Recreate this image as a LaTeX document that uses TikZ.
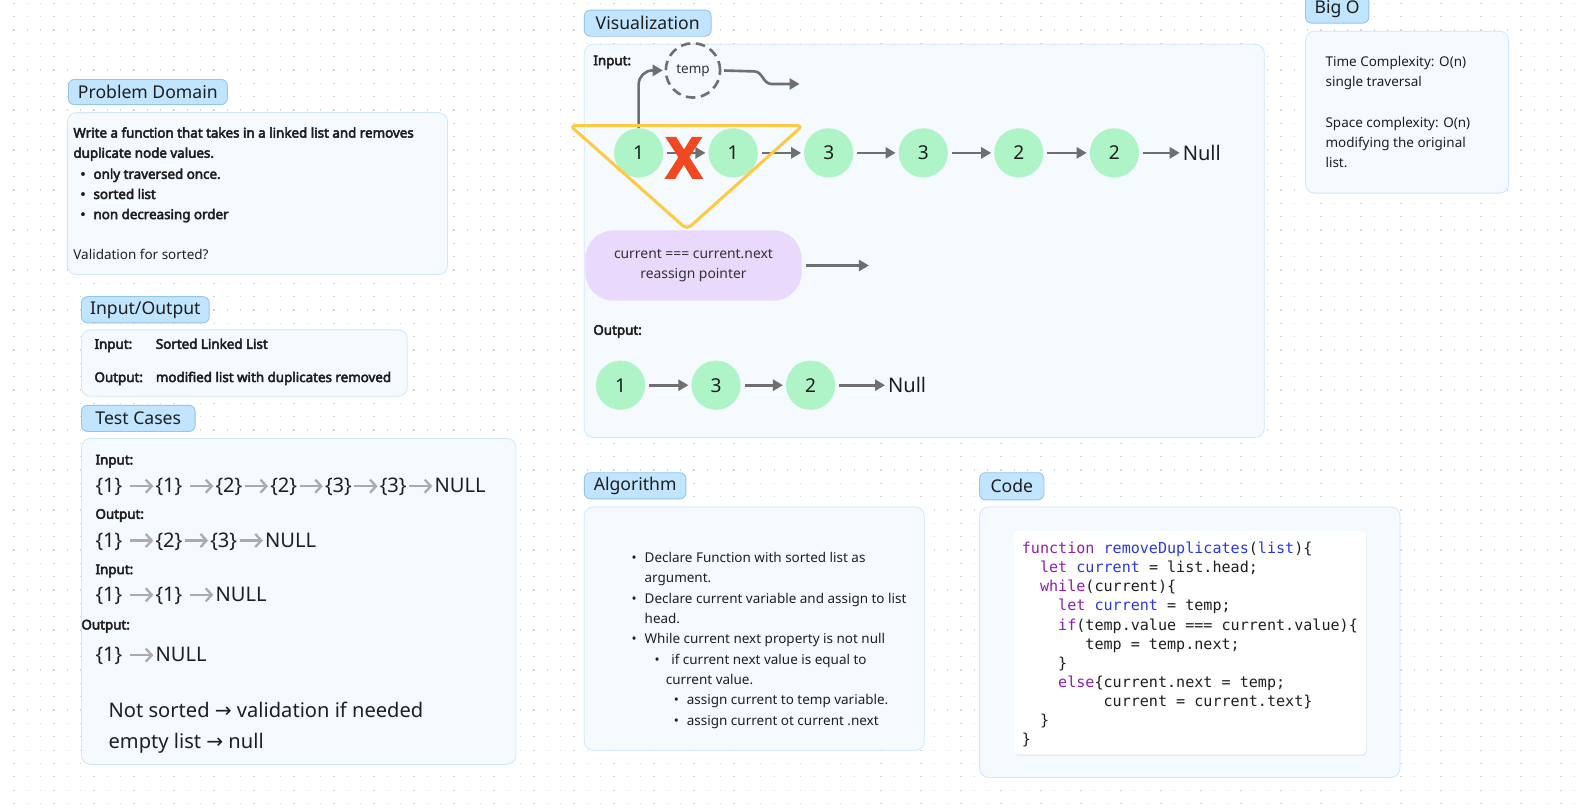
\documentclass[tikz,border=0pt]{standalone}
\usepackage{fontspec}
\setmainfont{Noto Sans}[BoldFont={Noto Sans},BoldFeatures={FakeBold=3.6}]
\newfontfamily\heavyfont{Noto Sans}[FakeBold=9]
\newfontfamily\symfont{DejaVu Sans}
\newfontfamily\codefont{DejaVu Sans Mono}
\usetikzlibrary{arrows.meta,positioning,calc}
\definecolor{ink}{HTML}{1E1E1E}
\definecolor{inksoft}{HTML}{333333}
\definecolor{dotgray}{HTML}{D6D6D6}
\definecolor{tagblue}{HTML}{C2E5FF}
\definecolor{tagline}{HTML}{93C6EC}
\definecolor{panelfill}{HTML}{F5FAFF}
\definecolor{panelline}{HTML}{CFE6FB}
\definecolor{linkgray}{HTML}{6F6F6F}
\definecolor{nodegreen}{HTML}{AFF4C6}
\definecolor{xred}{HTML}{F24822}
\definecolor{triyellow}{HTML}{FFC943}
\definecolor{pillpurple}{HTML}{E9D9FD}
\definecolor{arrowlight}{HTML}{ABABAB}
\definecolor{kwpurple}{HTML}{8E1FAE}
\definecolor{idblue}{HTML}{2A38E0}
\newcommand\fs[2]{\fontsize{#1}{#2}\selectfont}
\newcommand\ta{\hspace{1.5pt}\tikz[baseline=-0.33em]\draw[arrowlight,line width=2.3pt,
  -{Straight Barb[length=6pt,width=13pt,line width=2.3pt]}] (0pt,0pt) -- (23pt,0pt);\hspace{1pt}}
\newcommand\sar{{\symfont →}}
\newcommand\bul{\makebox[13pt][l]{•}}
\newcommand\kw[1]{\textcolor{kwpurple}{#1}}
\newcommand\id[1]{\textcolor{idblue}{#1}}
\newcommand\ind[1]{\hspace*{#1\fontcharwd\font`x}}

\begin{document}
\begin{tikzpicture}[x=1pt,y=-1pt,
  every node/.style={inner sep=0pt,outer sep=0pt,text=ink},
  griddot/.style={draw=dotgray,line width=1.3pt,dash pattern=on 1.3pt off 11.96pt},
  tag/.style={draw=tagline,fill=tagblue,line width=0.9pt,rounded corners=6pt,anchor=north west,font=\fs{17.5}{20}},
  panel/.style={draw=panelline,fill=panelfill,line width=0.8pt,rounded corners=9pt,anchor=north west},
  txt/.style={anchor=base west,yshift=-4.8pt,font=\fs{13.4}{15}},
  txtb/.style={txt,font=\bfseries\fs{13.3}{15}},
  txtl/.style={anchor=base west,yshift=-7pt,font=\fs{20}{24}},
  code/.style={anchor=base west,yshift=-5.2pt,font=\codefont\fs{15}{19}},
  lnode/.style={circle,fill=nodegreen,minimum size=49pt,font=\fs{19}{20}},
  link/.style={draw=linkgray,line width=2.6pt,-{Triangle[length=10pt,width=11pt]},shorten <=4pt,shorten >=3pt}]
  \fill[white] (0,0) rectangle (1568,804);
  \useasboundingbox (0,0) rectangle (1568,804);
  % dotted canvas
  \foreach \k in {0,...,60}
    \draw[griddot] (13.26,{3.3+13.26*\k}) -- (1568,{3.3+13.26*\k});

  % section tags and panels
  \node[tag,minimum width=158pt,minimum height=25pt] (pdtag) at (68,79) {Problem Domain};
  \node[panel,minimum width=378pt,minimum height=161pt] (pdpanel) at (67,112) {};
  \node[tag,minimum width=127pt,minimum height=26pt] (iotag) at (81,295) {Input/Output};
  \node[panel,minimum width=324pt,minimum height=66pt] (iopanel) at (81,328) {};
  \node[tag,minimum width=113pt,minimum height=26pt] (tctag) at (81,403) {Test Cases};
  \node[panel,minimum width=432pt,minimum height=324pt] (tcpanel) at (81,436) {};
  \node[tag,minimum width=126pt,minimum height=26pt] (viztag) at (581,10) {Visualization};
  \node[panel,minimum width=676pt,minimum height=391pt] (vizpanel) at (581,44) {};
  \node[tag,minimum width=101pt,minimum height=26pt] (algtag) at (581,470) {Algorithm};
  \node[panel,minimum width=338pt,minimum height=242pt] (algpanel) at (581,504) {};
  \node[tag,minimum width=64pt,minimum height=27pt] (codetag) at (974,470) {Code};
  \node[panel,minimum width=418pt,minimum height=269pt] (codepanel) at (974,504) {};
  \node[tag,minimum width=63pt,minimum height=27pt] (bigotag) at (1298,-4) {Big O};
  \node[panel,minimum width=202pt,minimum height=161pt] (bigopanel) at (1298,31) {};

  % problem domain
  \foreach \x/\y/\t [count=\i] in {73/132/{Write a function that takes in a linked list and removes},
      73/152/{duplicate node values.}, 80/173/{\bul only traversed once.},
      80/193/{\bul sorted list}, 80/213/{\bul non decreasing order}}
    \node[txtb] (pd\i) at (\x,\y) {\t};
  \node[txt] (pdnote) at (73,253) {Validation for sorted?};

  % input / output
  \node[txtb] (ioin) at (94,342) {Input:};
  \node[txtb] (ioinv) at (155,342) {Sorted Linked List};
  \node[txtb] (ioout) at (94,375) {Output:};
  \node[txtb] (iooutv) at (155,375) {modified list with duplicates removed};

  % test cases
  \node[txtb] (tcin1) at (95,457) {Input:};
  \node[txtl] (tcl1) at (95,483) {\{1\} \ta\{1\} \ta\{2\}\ta\{2\}\ta\{3\}\ta\{3\}\ta NULL};
  \node[txtb] (tcout1) at (95,511) {Output:};
  \node[txtl] (tcl2) at (95,537) {\{1\} \ta\{2\}\ta\{3\}\ta NULL};
  \node[txtb] (tcin2) at (95,566) {Input:};
  \node[txtl] (tcl3) at (95,591) {\{1\} \ta\{1\} \ta NULL};
  \node[txtb] (tcout2) at (81,621) {Output:};
  \node[txtl] (tcl4) at (95,651) {\{1\} \ta NULL};
  \node[txtl] (tcnote1) at (108,706) {Not sorted \sar{} validation if needed};
  \node[txtl] (tcnote2) at (108,737) {empty list \sar{} null};

  % visualization: input list
  \node[txtb] (vizin) at (590,60) {Input:};
  \foreach \v/\x [count=\i] in {1/635,1/729,3/824,3/918,2/1013,2/1108}
    \node[lnode] (a\i) at (\x,152) {\v};
  \foreach \i [count=\j from 2] in {1,...,5}
    \draw[link] (a\i) -- (a\j);
  \node[anchor=west,font=\fs{20}{24}] (anull) at (1176,152) {Null};
  \draw[link] (a6) -- (anull);
  \node[circle,draw=linkgray,line width=2.6pt,dash pattern=on 9.5pt off 5.5pt,
    minimum size=54pt,font=\fs{13.4}{15},text=inksoft] (temp) at (689,70) {temp};
  \draw[link,rounded corners=14pt,shorten <=0pt] (a1.north) |- (temp.west);
  \coordinate (tempout) at (795,83.5);
  \draw[link,shorten >=0pt] (temp.east) -- (750,71) to[out=0,in=180] (767,83.5) -- (tempout);
  \draw[triyellow,line width=3pt,rounded corners=5pt] (567,125) -- (798,125) -- (683,228) -- cycle;
  \node[font=\heavyfont\fs{52}{52},text=xred] (cross) at (680,157) {X};
  \node[fill=pillpurple,rounded corners=28pt,minimum width=215pt,minimum height=70pt,
    align=center,font=\fs{13.8}{20.5},text=inksoft] (cond) at (689.5,264)
    {current === current.next\\reassign pointer};
  \coordinate (condout) at (864,264);
  \draw[link,shorten >=0pt] (cond) -- (condout);

  % visualization: output list
  \node[txtb] (vizout) at (590,328) {Output:};
  \foreach \v/\x [count=\i] in {1/617,3/712,2/806}
    \node[lnode] (b\i) at (\x,383) {\v};
  \draw[link] (b1) -- (b2);
  \draw[link] (b2) -- (b3);
  \node[anchor=west,font=\fs{20}{24}] (bnull) at (883,383) {Null};
  \draw[link] (b3) -- (bnull);

  % algorithm
  \foreach \x/\y/\t [count=\i] in {628/554/{\bul Declare Function with sorted list as},
      641/574/{argument.}, 628/595/{\bul Declare current variable and assign to list},
      641/615/{head.}, 628/635/{\bul While current next property is not null},
      651/656/{\bul\ if current next value is equal to}, 662/676/{current value.},
      670/696/{\bul assign current to temp variable.}, 670/717/{\bul assign current ot current .next}}
    \node[txt] (alg\i) at (\x,\y) {\t};

  % code
  \fill[black!8,rounded corners=4pt] (1009,529.5) rectangle (1359,751.5);
  \node[fill=white,rounded corners=4pt,minimum width=350pt,minimum height=222pt,anchor=north west] (codebox) at (1008,528) {};
  \foreach \t [count=\i from 0] in {
      {\kw{function} \id{removeDuplicates}(\id{list})\{},
      {\ind2\kw{let} \id{current} = list.head;},
      {\ind2\kw{while}(current)\{},
      {\ind4\kw{let} \id{current} = temp;},
      {\ind4\kw{if}(temp.value === current.value)\{},
      {\ind6 temp = temp.next;},
      {\ind4\}},
      {\ind4\kw{else}\{current.next = temp;},
      {\ind8 current = current.text\}},
      {\ind2\}},
      {\}}}
    \node[code] (cl\i) at (1016,{545+19.05*\i}) {\t};

  % big o
  \foreach \y/\t [count=\i] in {61/{Time Complexity: O(n)}, 81/{single traversal},
      122/{Space complexity: O(n)}, 142/{modifying the original}, 162/{list.}}
    \node[txt] (bo\i) at (1318,\y) {\t};
\end{tikzpicture}
\end{document}
